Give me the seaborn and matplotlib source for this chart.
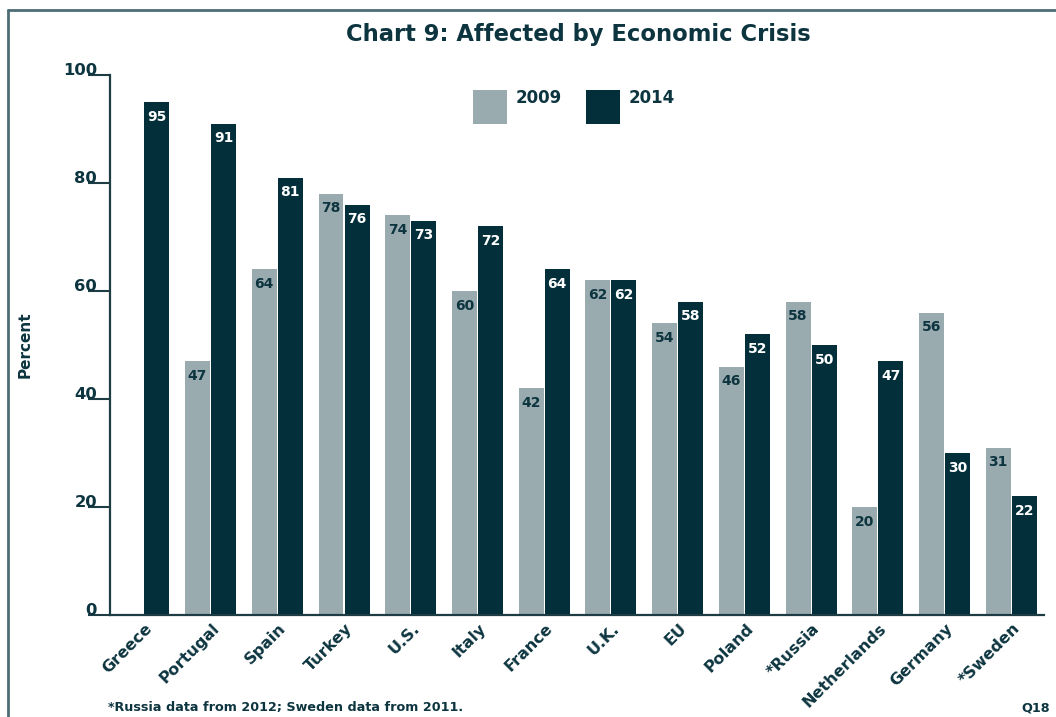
import numpy as np
import pandas as pd
import seaborn as sns
import matplotlib
matplotlib.use("Agg")
import matplotlib.pyplot as plt
import matplotlib.transforms as mtransforms
from matplotlib.patches import Rectangle
from matplotlib.lines import Line2D

# ---- data ----
countries = ["Greece", "Portugal", "Spain", "Turkey", "U.S.", "Italy", "France",
             "U.K.", "EU", "Poland", "*Russia", "Netherlands", "Germany", "*Sweden"]
values_2009 = [np.nan, 47, 64, 78, 74, 60, 42, 62, 54, 46, 58, 20, 56, 31]
values_2014 = [95, 91, 81, 76, 73, 72, 64, 62, 58, 52, 50, 47, 30, 22]
years = ["2009", "2014"]
y_ticks = [0, 20, 40, 60, 80, 100]

title = "Chart 9: Affected by Economic Crisis"
footnote = "*Russia data from 2012; Sweden data from 2011."

LIGHT = "#9aabb0"
DARK = "#032f3b"
TEXT = "#0d3540"
FRAME = "#4d6e74"

df = pd.DataFrame({
    "country": countries * 2,
    "year": [years[0]] * len(countries) + [years[1]] * len(countries),
    "value": values_2009 + values_2014,
})

sns.set_style("white")
plt.rcParams["font.family"] = ["DejaVu Sans"]
plt.rcParams["font.weight"] = "bold"
plt.rcParams["text.color"] = TEXT

fig = plt.figure(figsize=(10.56, 7.17), dpi=100)
ax = fig.add_axes([110 / 1056, 1 - 615 / 717, (1044 - 110) / 1056, (615 - 75) / 717])

sns.barplot(data=df, x="country", y="value", hue="year", order=countries,
            hue_order=years, palette=[LIGHT, DARK], width=0.78, gap=0.04,
            saturation=1, legend=False, ax=ax, edgecolor="none")

ax.set_xlim(-0.507, 13.49)
ax.set_ylim(0, 100)
ax.set_yticks(y_ticks)
ax.set_yticklabels([str(t) for t in y_ticks])
ax.set_xlabel("")
ax.set_ylabel("")

for s in ["top", "right"]:
    ax.spines[s].set_visible(False)
for s in ["left", "bottom"]:
    ax.spines[s].set_color("#1d3c44")
    ax.spines[s].set_linewidth(1.6)

ax.tick_params(axis="y", length=15.8, width=1.5, color="#1d3c44", pad=-6.5,
               labelsize=11.8, labelcolor=TEXT, left=True)
for lab in ax.get_yticklabels():
    lab.set_verticalalignment("baseline")
    lab.set_fontweight("bold")

ax.tick_params(axis="x", length=0, pad=4, labelsize=11.5, labelcolor=TEXT)
shift = mtransforms.ScaledTranslation(1 / 100, 0, fig.dpi_scale_trans)
for lab in ax.get_xticklabels():
    lab.set_rotation(45)
    lab.set_horizontalalignment("right")
    lab.set_rotation_mode("anchor")
    lab.set_fontweight("bold")
    lab.set_transform(lab.get_transform() + shift)

# value labels inside bars
for cont, col in zip(ax.containers, [TEXT, "white"]):
    for bar in cont:
        h = bar.get_height()
        if np.isnan(h) or h == 0:
            continue
        ax.annotate(f"{h:.0f}", xy=(bar.get_x() + bar.get_width() / 2, h),
                    xytext=(0, -5.5), textcoords="offset points",
                    ha="center", va="top", fontsize=10, color=col,
                    fontweight="bold")

# y label
fig.text(25 / 1056, 1 - 345 / 717, "Percent", rotation=90, ha="center",
         va="center", fontsize=11, color=TEXT, fontweight="bold")

# title
fig.text(578 / 1056, 1 - 35 / 717, title, ha="center", va="center",
         fontsize=16.3, color=TEXT, fontweight="bold")

# legend (manual)
for x0, lbl, col in [(473, years[0], LIGHT), (586, years[1], DARK)]:
    fig.patches.append(Rectangle((x0 / 1056, 1 - 124 / 717), 34 / 1056, 34 / 717,
                                 transform=fig.transFigure, facecolor=col,
                                 edgecolor="none"))
    fig.text((x0 + 43) / 1056, 1 - 89 / 717, lbl, ha="left", va="top",
             fontsize=12, color=TEXT, fontweight="bold")

# footnote and question id
fig.text(108 / 1056, 1 - 708 / 717, footnote, ha="left", va="center",
         fontsize=9.2, color=TEXT, fontweight="bold")
fig.text(1050 / 1056, 1 - 708 / 717, "Q18", ha="right", va="center",
         fontsize=9.2, color=TEXT, fontweight="bold")

# frame lines (top and left)
fig.add_artist(Line2D([8 / 1056, 1.0], [1 - 9.5 / 717, 1 - 9.5 / 717],
                      transform=fig.transFigure, color=FRAME, lw=2))
fig.add_artist(Line2D([8 / 1056, 8 / 1056], [0, 1 - 9.5 / 717],
                      transform=fig.transFigure, color=FRAME, lw=2))

fig.savefig("out.png", dpi=100)
